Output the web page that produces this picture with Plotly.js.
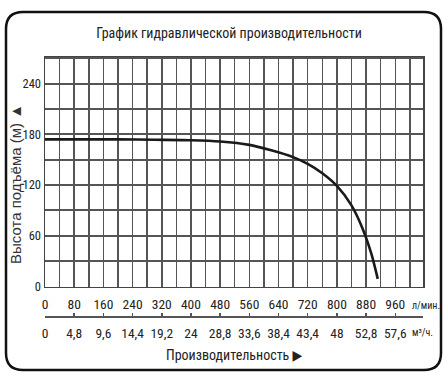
<!DOCTYPE html>
<html>
<head>
<meta charset="utf-8">
<script src="https://cdn.plot.ly/plotly-3.0.1.min.js"></script>
<style>html,body{margin:0;padding:0;background:#fff;}#chart{width:447px;height:376px;}</style>
</head>
<body>
<div id="chart"></div>
<script>
// ---- data ----
const flowLpm = [0, 100, 200, 300, 400, 480, 560, 620, 680, 720, 760, 800, 840, 870, 895, 912];
const headM   = [174, 174, 174, 173.5, 173, 171.5, 167.5, 161, 153, 145, 134, 119, 96, 69, 38, 9];

const xTickVals = [0, 80, 160, 240, 320, 400, 480, 560, 640, 720, 800, 880, 960];
const lpmLabels = ['0','80','160','240','320','400','480','560','640','720','800','880','960'];
const m3hLabels = ['0','4,8','9,6','14,4','19,2','24','28,8','33,6','38,4','43,4','48','52,8','57,6'];
const yTickVals = [0, 60, 120, 180, 240];
const yTickText = ['0','60','120','180','240'];

const titleText = 'График гидравлической производительности';
const yTitleText = 'Высота подъёма (м) ▲';
const xTitleText = 'Производительность ▶';
const unitLpm = 'л/мин.';
const unitM3h = 'м³/ч.';

// ---- geometry helpers (pixel -> paper) ----
const W = 447, H = 376;
const mL = 45, mR = 24, mT = 57, mB = 60;
const plotBottomPx = 286.5;
const pw = W - mL - mR, ph = H - mT - mB;
const px = x => (x - mL) / pw;
const py = y => (H - mB - y) / ph;
const yDomLow = py(plotBottomPx);

const FONT = '"Liberation Sans Narrow", "Arial Narrow", "Roboto Condensed", "DejaVu Sans Condensed", "Liberation Sans", sans-serif';
const WIDE = '"Liberation Sans", Arial, sans-serif';
const TXT = '#222';
const GRID = '#555';

// rounded border
function roundRect(l, t, r, b, rad) {
  const p = (x, y) => px(x) + ',' + py(y);
  return 'M' + p(l + rad, t) + ' L' + p(r - rad, t) + ' Q' + p(r, t) + ' ' + p(r, t + rad) +
         ' L' + p(r, b - rad) + ' Q' + p(r, b) + ' ' + p(r - rad, b) +
         ' L' + p(l + rad, b) + ' Q' + p(l, b) + ' ' + p(l, b - rad) +
         ' L' + p(l, t + rad) + ' Q' + p(l, t) + ' ' + p(l + rad, t) + ' Z';
}

const traces = [
  {
    x: flowLpm, y: headM, type: 'scatter', mode: 'lines',
    line: {color: '#1a1a1a', width: 2.6, shape: 'spline', smoothing: 0.7},
    hoverinfo: 'skip', showlegend: false
  },
  {
    x: flowLpm, y: headM, xaxis: 'x2', yaxis: 'y', type: 'scatter', mode: 'lines',
    line: {width: 0, color: 'rgba(0,0,0,0)'}, hoverinfo: 'skip', showlegend: false
  }
];

const layout = {
  width: W, height: H,
  margin: {l: mL, r: mR, t: mT, b: mB, pad: 0},
  paper_bgcolor: '#fff', plot_bgcolor: '#fff',
  showlegend: false,
  title: {
    text: titleText, x: 229 / W, xanchor: 'center', y: 1 - 33 / H, yanchor: 'middle',
    font: {family: FONT, size: 14, color: TXT}
  },
  xaxis: {
    range: [0, 1036], tickmode: 'array', tickvals: xTickVals, ticktext: lpmLabels,
    showgrid: true, gridcolor: GRID, gridwidth: 1.5, zeroline: false,
    minor: {tickmode: 'linear', tick0: 0, dtick: 40, showgrid: true, gridcolor: GRID, gridwidth: 1.5, ticks: ''},
    showline: true, mirror: true, linecolor: '#444', linewidth: 1.5,
    ticks: '', ticklabelstandoff: 5, tickfont: {family: FONT, size: 13.5, color: TXT},
    fixedrange: true
  },
  xaxis2: {
    overlaying: 'x', anchor: 'free', position: 0, side: 'bottom',
    range: [0, 1036], tickmode: 'array', tickvals: xTickVals, ticktext: m3hLabels,
    showgrid: false, zeroline: false,
    showline: true, linecolor: '#555', linewidth: 1.5,
    ticks: 'inside', ticklen: 3, tickwidth: 1.5, tickcolor: '#555',
    ticklabelstandoff: 4,
    tickfont: {family: FONT, size: 13.5, color: TXT},
    fixedrange: true
  },
  yaxis: {
    domain: [yDomLow, 1],
    range: [0, 271.4], tickmode: 'array', tickvals: yTickVals, ticktext: yTickText,
    showgrid: true, gridcolor: GRID, gridwidth: 2, zeroline: false,
    minor: {tickmode: 'linear', tick0: 0, dtick: 30, showgrid: true, gridcolor: GRID, gridwidth: 2, ticks: ''},
    showline: true, mirror: true, linecolor: '#444', linewidth: 1.5,
    ticks: '', ticklabelstandoff: 0, tickfont: {family: FONT, size: 12.5, color: TXT},
    fixedrange: true
  },
  annotations: [
    {text: yTitleText, xref: 'paper', yref: 'paper', x: px(15), y: py(184),
     xanchor: 'center', yanchor: 'middle', textangle: -90, showarrow: false,
     font: {family: WIDE, size: 15, color: '#333'}},
    {text: xTitleText, xref: 'paper', yref: 'paper', x: px(234), y: py(355),
     xanchor: 'center', yanchor: 'middle', showarrow: false,
     font: {family: FONT, size: 14, color: TXT}},
    {text: unitLpm, xref: 'paper', yref: 'paper', x: px(410), y: py(305),
     xanchor: 'left', yanchor: 'middle', showarrow: false,
     font: {family: FONT, size: 10, color: TXT}},
    {text: unitM3h, xref: 'paper', yref: 'paper', x: px(410), y: py(332),
     xanchor: 'left', yanchor: 'middle', showarrow: false,
     font: {family: FONT, size: 10, color: TXT}}
  ],
  shapes: [
    {type: 'path', xref: 'paper', yref: 'paper', path: roundRect(6, 12, 441, 370, 17),
     line: {color: '#111', width: 2.5}, fillcolor: 'rgba(0,0,0,0)', layer: 'above'}
  ]
};

Plotly.newPlot('chart', traces, layout, {displayModeBar: false, staticPlot: true});
</script>
</body>
</html>
